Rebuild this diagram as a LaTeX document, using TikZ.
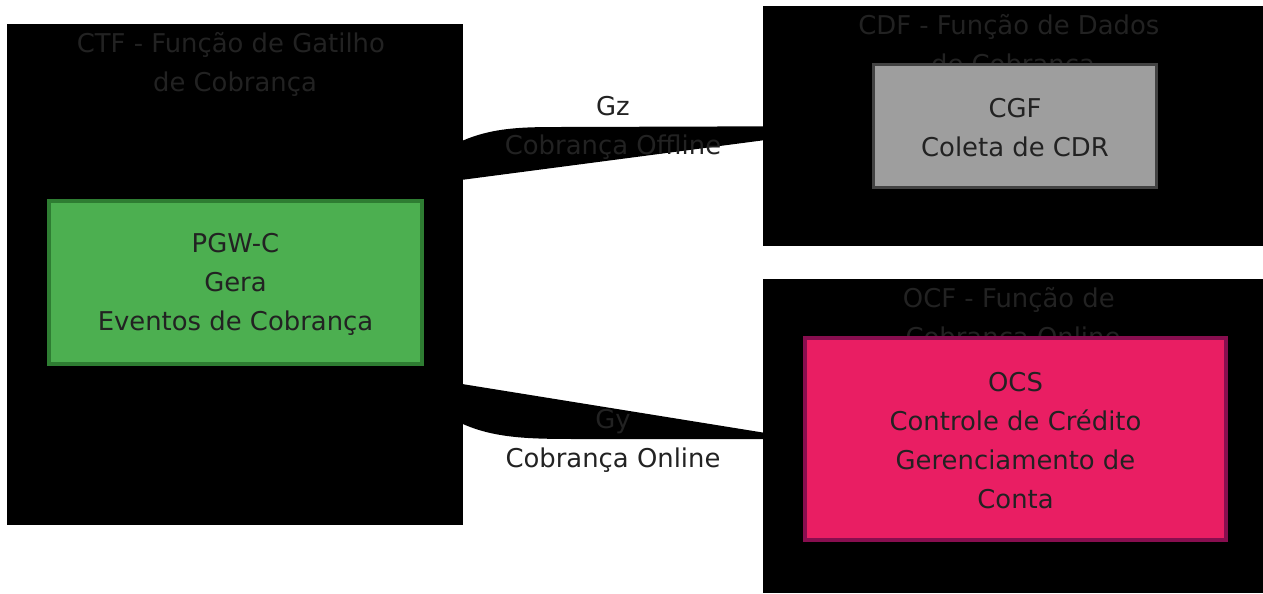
\documentclass[tikz,border=0pt]{standalone}
\usepackage{fontspec}
\setmainfont{DejaVu Sans}
\definecolor{txt}{HTML}{222222}
\definecolor{pgwfill}{HTML}{4CAF50}
\definecolor{pgwline}{HTML}{2E7D32}
\definecolor{cgffill}{HTML}{9E9E9E}
\definecolor{cgfline}{HTML}{424242}
\definecolor{ocsfill}{HTML}{E91E63}
\definecolor{ocsline}{HTML}{880E4F}
\begin{document}
\begin{tikzpicture}[x=0.75pt,y=-0.75pt]
  \tikzstyle{cluster} = [fill=black, inner sep=0pt]
  \tikzstyle{ctitle} = [text=txt, align=center, inner sep=0pt, font=\fontsize{19.4}{29.25}\selectfont]
  \tikzstyle{cnode} = [line width=3pt, inner sep=0pt]
  \tikzstyle{ntext} = [text=txt, align=center, inner sep=0pt, yshift=-1.5pt, font=\fontsize{19.4}{29.25}\selectfont]
  \tikzstyle{elabel} = [text=txt, align=center, inner sep=0pt, font=\fontsize{19.4}{29.25}\selectfont]
  \useasboundingbox (0,0) rectangle (1263,593);

  \node[cluster, minimum width=342pt, minimum height=375.75pt] (ctf) at (235,274.5) {};
  \node[cluster, minimum width=375pt, minimum height=180pt] (cdf) at (1013,126) {};
  \node[cluster, minimum width=375pt, minimum height=235.5pt] (ocf) at (1013,436) {};

  \node[ctitle] (ctftitle) at (235,64.5) {CTF - Função de Gatilho\hspace*{.32em}\\de Cobrança};
  \node[ctitle] (cdftitle) at (1013,46.5) {CDF - Função de Dados\hspace*{.32em}\\de Cobrança};
  \node[ctitle] (ocftitle) at (1013,319.5) {OCF - Função de\hspace*{.32em}\\Cobrança Online};

  \node[cnode, fill=pgwfill, draw=pgwline, minimum width=279.75pt, minimum height=122.25pt,
    label={[ntext, name=pgwtext]center:{PGW-C\\Gera\\Eventos de Cobrança}}] (pgw) at (235.5,282.5) {};
  \node[cnode, fill=cgffill, draw=cgfline, line width=2.25pt, minimum width=212.25pt, minimum height=92.25pt,
    label={[ntext, name=cgftext]center:{CGF\\Coleta de CDR}}] (cgf) at (1015,126) {};
  \node[cnode, fill=ocsfill, draw=ocsline, minimum width=315.75pt, minimum height=151.5pt,
    label={[ntext, name=ocstext]center:{OCS\\Controle de Crédito\\Gerenciamento de\hspace*{.32em}\\Conta}}] (ocs) at (1015.5,439) {};

  \coordinate (gzstart) at (400,188);
  \coordinate (gystart) at (400,374);
  \fill (gzstart) .. controls (455,128) and (500,127) .. (560,127) -- (cgf.west) -- cycle;
  \fill (gystart) .. controls (455,438) and (500,439) .. (580,439) -- (ocs.west) -- cycle;

  \node[elabel] (gz) at (613,127.5) {Gz\\Cobrança Offline};
  \node[elabel] (gy) at (613,441) {Gy\\Cobrança Online};
\end{tikzpicture}
\end{document}
